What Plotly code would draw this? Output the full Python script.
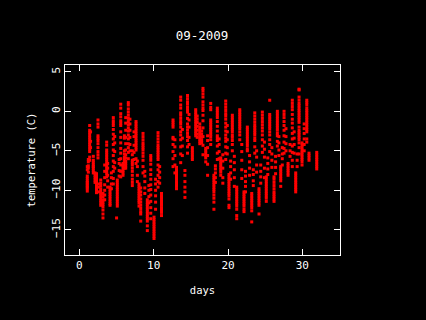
import plotly.graph_objects as go

# temperature readings, grouped in near vertical runs
run_days = [
    1.06, 1.2, 1.38, 1.5, 1.87, 2.1, 2.3, 2.5, 2.6, 2.87, 3.17, 3.4, 3.67, 3.8, 4.12, 4.3,
    4.56, 4.75, 5.0, 5.1, 5.35, 5.56, 5.87, 6.05, 6.23, 6.58, 6.8, 7.12, 7.35, 7.62, 7.8,
    8.02, 8.25, 8.56, 8.8, 9.14, 9.35, 9.6, 10.04, 10.25, 10.58, 10.8, 11.05,
    12.6, 12.85, 13.07, 13.63, 13.85, 14.2, 14.55, 14.75, 15.2, 15.65, 15.85, 16.2, 16.45,
    16.63, 17.0, 17.25, 17.67, 18.1, 18.3, 18.56, 18.8, 19.02, 19.3, 19.69, 19.9, 20.13,
    20.35, 20.58, 20.85, 21.17, 21.58, 21.85, 22.15, 22.35, 22.6, 22.9, 23.19, 23.4, 23.6,
    23.85, 24.17, 24.4, 24.62, 24.9, 25.15, 25.35, 25.61, 25.9, 26.19, 26.4, 26.64, 26.85,
    27.09, 27.3, 27.54, 27.8, 28.08, 28.35, 28.65, 28.9, 29.11, 29.3, 29.56, 29.96, 30.25,
    30.6, 30.9, 31.94,
]
run_temps = [
    [-7.0, -7.4, -8.2, -8.5, -8.8, -9.0, -9.2, -9.4, -9.6, -9.8, -10.1],
    [-6.1, -6.4, -6.9, -7.2, -7.7],
    [-1.8, -2.4, -2.7, -3.0, -3.3, -3.6, -3.9, -4.2, -4.5, -4.8, -5.1, -5.8, -6.2],
    [-2.6, -3.8, -4.6],
    [-5.7, -6.2, -6.5, -6.8, -7.0, -7.2, -7.5, -7.8],
    [-7.8, -8.1, -8.4, -8.7, -9.0],
    [-7.9, -8.2, -8.5, -8.8, -9.1, -9.4, -9.7, -10.0, -10.3],
    [-1.1, -1.6, -2.0, -3.1, -3.4, -3.7, -4.1, -4.6, -5.1, -5.5, -5.9],
    [-9.2, -9.6, -10.2],
    [-8.7, -9.1, -9.4, -9.8, -10.1, -10.4, -10.7, -11.0, -11.3, -11.6, -11.9],
    [-10.4, -10.8, -11.2, -11.5, -11.8, -12.1, -12.5, -13.0, -13.5],
    [-6.8, -7.6, -8.4, -9.3, -10.0, -10.6, -11.2],
    [-3.9, -4.3, -4.9, -5.2, -5.5, -5.8, -6.1, -6.4, -6.7, -7.0, -7.3, -7.6, -7.9, -8.3],
    [-6.6, -7.2, -8.1, -8.8, -9.6],
    [-9.6, -9.9, -10.2, -10.5, -10.8, -11.1, -11.4, -11.7, -11.9],
    [-7.8, -8.4, -9.2, -9.8],
    [-0.8, -1.2, -1.5, -1.8, -2.3, -2.9, -3.5, -4.2, -4.9, -5.6, -6.3, -7.0, -7.6, -8.5, -9.2],
    [-3.2, -4.0, -5.1, -6.5, -7.2],
    [-13.5],
    [-8.7, -9.0, -9.3, -9.6, -9.9, -10.2, -10.5, -10.8, -11.1, -11.4, -11.7, -12.0],
    [-6.1, -6.6, -7.5, -8.2],
    [0.9, 0.4, -0.3, -0.7, -1.2, -1.5, -1.8, -2.6, -3.3, -4.0, -4.7, -5.3, -6.0, -6.8, -7.6, -8.3],
    [-6.6, -6.9, -7.2, -7.5, -7.8, -8.1],
    [-3.1, -3.4, -5.0, -5.4, -5.8, -6.1, -6.4, -6.8, -7.2],
    [-0.8, -1.5, -2.4, -3.3, -4.1, -4.9, -5.5, -5.9, -6.3, -6.6, -6.9, -7.2],
    [1.1, 0.8, 0.3, -0.1, -0.5, -0.9, -1.3, -1.7, -2.1, -2.5, -3.0, -3.5, -4.1, -4.6, -5.2, -6.0],
    [-1.0, -1.6, -2.4, -3.3, -4.2, -5.0],
    [-5.0, -5.5, -6.2, -6.5, -6.8, -7.2, -7.6, -8.1, -8.6, -9.0, -9.4],
    [-2.6, -3.2, -4.3, -5.2, -6.1],
    [-1.3, -1.6, -1.9, -2.2, -2.5, -2.8, -3.1, -3.4, -3.7, -4.0, -4.3, -4.6, -4.9, -6.0, -6.6],
    [-6.3, -7.0, -8.1, -8.9],
    [-9.2, -9.5, -9.8, -10.1, -10.4, -10.7, -11.0, -11.3, -11.6, -12.0],
    [-9.7, -10.2, -10.6, -11.1, -11.5, -11.9, -12.3, -12.7, -13.0, -13.9],
    [-2.8, -3.2, -3.6, -4.0, -4.3, -4.6, -4.9, -5.3, -5.7, -6.2, -7.0, -7.8],
    [-7.6, -8.2, -8.9, -9.7, -10.4],
    [-11.2, -11.5, -11.8, -12.1, -12.4, -12.7, -13.0, -13.3, -13.6, -13.9, -14.5, -15.1],
    [-9.4, -10.0, -10.8, -11.6],
    [-5.6, -5.9, -6.2, -6.7, -7.4, -8.0, -8.6, -9.3, -9.9, -10.6, -11.4, -12.2, -12.9, -13.6],
    [-13.4, -13.7, -14.0, -14.3, -14.6, -14.9, -15.2, -15.5, -15.8, -16.1],
    [-8.6, -9.2, -10.0, -10.7, -11.5, -12.4],
    [-2.7, -3.1, -3.5, -3.9, -4.3, -4.6, -4.9, -5.2, -5.5, -5.8, -6.1, -6.8, -7.4, -8.1, -8.9, -9.6],
    [-7.0, -7.7, -8.4, -9.1],
    [-10.4, -10.7, -11.0, -11.3, -11.6, -11.9, -12.2, -12.5, -12.8, -13.2],
    [-1.1, -1.4, -1.7, -2.0, -3.3, -3.5, -4.2, -5.1, -6.0, -7.0],
    [-3.6, -4.5, -5.6, -6.8, -7.8],
    [-7.1, -7.4, -7.7, -8.0, -8.3, -8.6, -8.9, -9.2, -9.5, -9.8],
    [1.8, 1.4, 0.8, 0.4, -0.2, -0.5, -0.9, -1.3, -1.6, -2.0, -2.6, -3.0, -3.6, -4.5, -5.4, -6.5],
    [-2.3, -3.4, -4.4, -5.6],
    [-7.5, -8.1, -8.9, -9.6, -10.2, -10.9],
    [2.0, 1.6, 1.2, 0.9, 0.5, 0.2, -0.1, -0.9, -1.6, -2.0, -2.4, -2.8, -3.2, -3.7, -4.5, -5.3],
    [-0.4, -1.1, -2.0, -3.3, -4.2],
    [-4.6, -4.9, -5.2, -5.5, -5.8, -6.1],
    [0.2, -0.1, -0.4, -0.7, -1.0, -1.3, -1.6, -1.9, -2.2, -2.5, -2.8, -3.1],
    [-0.6, -1.0, -1.4, -1.9, -2.4, -2.9, -3.3],
    [-1.6, -2.0, -2.3, -2.6, -2.9, -3.2, -3.5, -3.8, -4.1],
    [-2.5, -2.9, -3.3, -3.7, -4.0],
    [2.9, 2.6, 2.2, 1.8, 1.2, 0.8, 0.4, 0.1, -0.5, -1.2, -2.1, -3.2, -4.3, -5.5],
    [-4.7, -5.0, -5.3, -5.6, -5.9, -6.4],
    [-3.1, -3.7, -4.6, -5.6, -6.7, -8.1],
    [1.0, 0.5, 0.2, -1.1, -1.4, -1.7, -2.0, -2.3, -2.6, -2.9, -3.2, -3.6, -4.2],
    [-8.1, -8.4, -8.7, -9.0, -9.3, -9.6, -9.9, -10.2, -10.6, -11.0, -11.5, -12.4],
    [-6.9, -7.3, -7.8, -8.4, -9.0],
    [0.4, 0.1, -0.2, -0.5, -0.8, -1.3, -1.9, -2.5, -3.1, -3.4, -3.7, -4.4, -5.3, -6.1],
    [-3.5, -4.2, -5.1, -6.0],
    [-5.9, -6.2, -6.5, -6.8, -7.1, -7.4, -7.7, -8.1],
    [-5.5, -6.3, -7.2, -8.4, -9.1],
    [1.3, 0.9, 0.5, 0.1, -0.3, -0.6, -1.0, -1.5, -2.0, -2.5, -3.0, -3.4, -3.8, -4.5, -5.3, -6.1],
    [-1.8, -2.6, -3.6, -4.6, -5.4],
    [-8.0, -8.3, -8.6, -8.9, -9.2, -9.5, -9.8, -10.1, -10.4, -10.7, -11.1, -11.9, -12.2],
    [-6.3, -7.0, -7.8, -8.6],
    [-0.5, -0.8, -1.1, -1.4, -1.7, -2.0, -2.3, -2.6, -3.0, -3.3, -3.7, -4.2, -5.0],
    [-5.7, -6.5, -7.4, -8.4, -9.5],
    [-9.6, -9.9, -10.2, -10.5, -10.8, -11.1, -11.4, -11.7, -12.0, -12.4, -13.2, -13.6],
    [0.2, -0.1, -0.4, -0.7, -1.0, -1.3, -1.6, -1.9, -2.2, -2.6, -3.0, -3.6],
    [-4.2, -5.1, -6.2, -7.4, -8.5],
    [-10.2, -10.5, -10.8, -11.1, -11.4, -11.7, -12.0, -12.4, -12.7],
    [-7.6, -8.2, -8.9, -9.5, -10.2],
    [-2.0, -2.3, -2.6, -2.9, -3.2, -3.5, -3.8, -4.1, -4.4, -4.8, -5.0],
    [-5.6, -6.4, -7.2, -8.1],
    [-10.4, -10.7, -11.0, -11.3, -11.6, -11.9, -12.2, -12.6, -14.0],
    [-7.4, -8.0, -8.8, -9.4],
    [-0.2, -0.6, -1.0, -1.4, -1.8, -2.1, -2.4, -2.7, -3.0, -3.4, -3.7, -4.5, -5.3],
    [-5.0, -5.8, -6.8, -7.7],
    [-9.8, -10.1, -10.4, -10.7, -11.0, -11.3, -11.6, -11.9, -13.0],
    [-6.8, -7.6, -8.3, -9.1],
    [-0.1, -0.5, -0.9, -1.3, -1.7, -2.1, -2.5, -3.0, -3.6, -4.4, -5.2],
    [-3.9, -4.8, -5.8, -7.2, -8.4],
    [-8.3, -8.6, -8.9, -9.2, -9.5, -9.8, -10.1, -10.4, -10.7, -11.0, -11.4],
    [-5.9, -6.6, -7.3, -8.0],
    [1.4, -0.4, -0.7, -1.0, -1.3, -1.6, -1.9, -2.2, -2.6, -3.0, -3.6, -4.2, -5.1],
    [-4.6, -5.4, -6.2, -7.1],
    [-8.3, -8.6, -9.0, -9.4, -9.8, -10.2, -10.5, -10.8, -11.1, -11.4],
    [-5.7, -6.4, -7.1, -7.9],
    [0.0, -0.3, -0.6, -0.9, -1.2, -1.5, -1.8, -2.1, -2.4, -2.8, -3.1, -3.8, -4.4],
    [-3.2, -4.0, -4.9, -5.6],
    [-7.0, -7.3, -7.6, -7.9, -8.2, -8.5, -8.8, -9.5],
    [-4.6, -5.4, -6.0, -6.8],
    [0.0, -0.4, -0.8, -1.3, -1.8, -2.4, -3.1, -3.9, -4.7, -5.3],
    [-2.2, -3.2, -4.1, -5.0],
    [-6.6, -6.9, -7.2, -7.5, -7.8, -8.1],
    [-4.2, -5.0, -5.7],
    [1.4, 1.0, 0.6, 0.2, -0.4, -1.0, -1.5, -2.1, -2.8, -3.5, -4.4, -5.2, -6.2, -7.0],
    [-2.6, -3.4, -4.2, -5.3],
    [-7.8, -8.1, -8.4, -8.7, -9.0, -9.3, -9.6, -9.9, -10.2],
    [-5.4, -6.2, -7.0],
    [2.8, 2.7, 1.8, 1.4, 1.0, 0.7, 0.4, 0.1, -0.2, -0.5, -0.8, -1.1, -1.4, -2.0, -2.4, -2.7, -3.0, -3.3, -3.6, -4.0, -4.6, -5.4],
    [-4.0, -4.3, -4.6, -4.9, -5.2, -5.5, -5.8, -6.1, -6.4, -6.8],
    [-1.6, -2.2, -2.8, -3.5, -4.2, -5.0],
    [1.4, 1.1, 0.8, 0.4, 0.1, -0.2, -0.5, -0.8, -1.1, -1.4, -1.7, -2.0, -2.3, -2.6, -3.5, -3.9],
    [-5.3, -5.6, -5.9, -6.2],
    [-5.2, -5.5, -5.8, -6.1, -6.4, -6.7, -7.0, -7.3],
]

x_ticks = [0, 10, 20, 30]
y_ticks = [-15, -10, -5, 0, 5]

days = []
temps = []
for day, values in zip(run_days, run_temps):
    days += [day] * len(values)
    temps += values

fig = go.Figure()
fig.add_trace(
    go.Scatter(
        x=days,
        y=temps,
        mode="markers",
        marker=dict(color="#ff0000", size=3, symbol="square", line_width=0),
        showlegend=False,
    )
)

mono = "DejaVu Sans Mono"
axis = dict(
    showgrid=False,
    zeroline=False,
    showline=True,
    linecolor="white",
    linewidth=1,
    mirror="ticks",
    ticks="inside",
    ticklen=6,
    tickcolor="white",
    tickwidth=1,
    tickfont=dict(family=mono, size=11, color="white"),
)
fig.update_xaxes(axis, range=[-1.94, 35.07], tickvals=x_ticks, title=dict(text="days", font=dict(family=mono, size=10.5, color="white"), standoff=15))
fig.update_yaxes(axis, range=[-18.19, 5.86], tickvals=y_ticks, tickangle=-90, title=dict(text="temperature (C)", font=dict(family=mono, size=10.5, color="white"), standoff=11))
fig.update_layout(
    title=dict(text="09-2009", font=dict(family=mono, size=12.5, color="white"), x=202 / 426, xanchor="center", y=1 - 36 / 320, yanchor="middle"),
    width=426,
    height=320,
    margin=dict(l=65, r=86, t=65, b=65, autoexpand=False),
    paper_bgcolor="black",
    plot_bgcolor="black",
)
fig.write_html(
    "out.html",
    config=dict(displayModeBar=False),
    post_script="document.body.style.margin='0';document.body.style.background='black';",
)
